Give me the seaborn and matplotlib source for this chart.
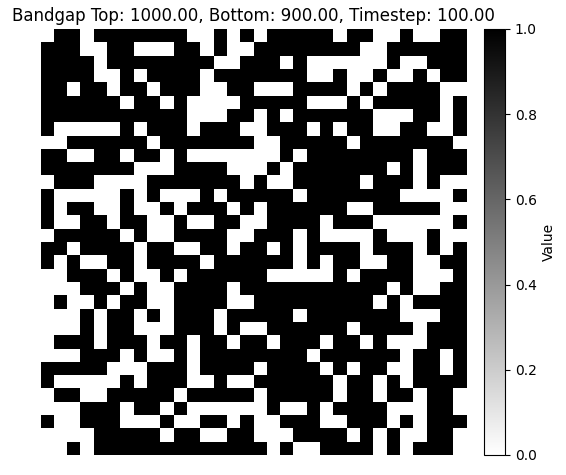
import numpy as np
import matplotlib
matplotlib.use('Agg')
import matplotlib.pyplot as plt
import seaborn as sns

# 32x32 binary state grid, 1 = black, 0 = white
grid_rows = [
    "01101111111001010111110110010011",
    "11100110001101001111111100111111",
    "11110111111110011101000000100111",
    "11110010111101111111001001001011",
    "11011011011100110001111010111100",
    "11111101101000011111000101111101",
    "11111111111000110101111110001101",
    "10000010111011100111010110011001",
    "00111111011111110011111011111110",
    "11001101101000000010111111110111",
    "11111110001111000101111111010111",
    "01110000111111101001111101110100",
    "10000010100010111110111111100001",
    "10110010010111010111111001111100",
    "10011011001001100111101110000001",
    "01111101001111001110100001000100",
    "11011110110011011010111101110101",
    "10100110111101111110101100110011",
    "00111010010111111000001011110001",
    "00011101001111011111111111010011",
    "01001011001111001111111110101111",
    "00010110101110111110111111100011",
    "00010110001110100111111011110111",
    "01110111011011011011101101000111",
    "00011101001011111111011111101101",
    "11111000111011110111101011001101",
    "10000010111001001111110110101111",
    "01100111110111110111110110110110",
    "00011101101000000100101111000110",
    "10011100010011010011100111010111",
    "00001111101100110001111010100110",
    "00101111111111111010011110101110",
]
grid = np.array([[int(c) for c in row] for row in grid_rows], dtype=float)

top_gap = 1000.00
bottom_gap = 900.00
timestep = 100.00

fig = plt.figure(figsize=(5.66, 4.75), dpi=100)
ax = fig.add_axes([40 / 566, 20 / 475, 427 / 566, 426 / 475])
cax = fig.add_axes([484 / 566, 20 / 475, 21 / 566, 426 / 475])

sns.heatmap(grid, ax=ax, cbar_ax=cax, cmap='gray_r', vmin=0, vmax=1,
            square=True, xticklabels=False, yticklabels=False,
            cbar_kws={'label': 'Value', 'ticks': [0.0, 0.2, 0.4, 0.6, 0.8, 1.0]})
ax.set_title(f'Bandgap Top: {top_gap:.2f}, Bottom: {bottom_gap:.2f}, Timestep: {timestep:.2f}')

cbar = ax.collections[0].colorbar
cbar.outline.set_visible(True)
cbar.outline.set_linewidth(0.8)
cbar.outline.set_edgecolor('black')
cbar.ax.set_yticklabels(['0.0', '0.2', '0.4', '0.6', '0.8', '1.0'])

fig.savefig('out.png', dpi=100)
